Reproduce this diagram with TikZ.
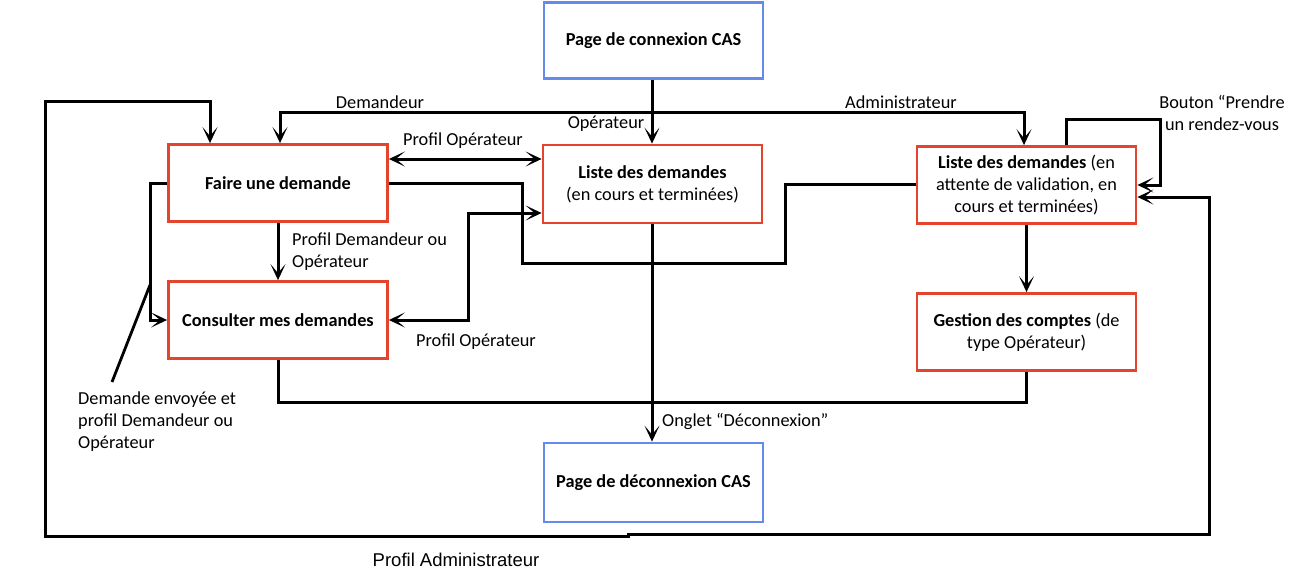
\documentclass[tikz,border=0pt]{standalone}
\usepackage{fontspec}
\setmainfont{Carlito}
\newfontfamily\arialf{Liberation Sans}
\usetikzlibrary{arrows.meta}
\definecolor{boxred}{RGB}{228,68,46}
\definecolor{boxblue}{RGB}{100,138,235}
\tikzset{
  box/.style={draw=boxred, line width=2.8pt, minimum width=219pt, minimum height=77pt, align=center, inner sep=2pt, font=\fontsize{18.3}{22}\selectfont},
  bluebox/.style={box, draw=boxblue},
  conn/.style={line width=3pt, line join=miter},
  arr/.style={conn, -{Stealth[length=16pt,width=15pt,inset=9pt]}},
  barr/.style={conn, {Stealth[length=16pt,width=15pt,inset=9pt]}-{Stealth[length=16pt,width=15pt,inset=9pt]}},
  lbl/.style={font=\fontsize{18.3}{22}\selectfont, inner sep=0pt},
}
\begin{document}
\begin{tikzpicture}[x=1pt,y=-1pt]
\useasboundingbox[fill=white] (0,0) rectangle (1289,570);

% boxes
\node[bluebox, minimum height=76pt] (cas) at (653.5,40.5) {\textbf{Page de connexion CAS}};
\node[box] (faire) at (278,183) {\textbf{Faire une demande}};
\node[box, minimum height=78pt] (liste1) at (652.5,184) {\textbf{Liste des demandes}\\(en cours et terminées)};
\node[box] (liste2) at (1026.5,185) {\textbf{Liste des demandes} (en\\attente de validation, en\\cours et terminées)};
\node[box] (consult) at (278,320) {\textbf{Consulter mes demandes}};
\node[box] (gestion) at (1026.5,332) {\textbf{Gestion des comptes} (de\\type Opérateur)};
\node[bluebox, minimum height=79pt] (decas) at (653.5,482.5) {\textbf{Page de déconnexion CAS}};

% coordinates
\coordinate (mx) at (652,0);
\coordinate (dA) at (280,112);
\coordinate (dB) at (1024,112);
\coordinate (o1) at (210,101);
\coordinate (o2) at (45,101);
\coordinate (o3) at (45,536);
\coordinate (o4) at (628,536);
\coordinate (o5) at (628,534);
\coordinate (o6) at (1209,534);
\coordinate (o7) at (1209,197);
\coordinate (s1) at (1066,119);
\coordinate (s2) at (1160,185);
\coordinate (c1) at (522,263);
\coordinate (c2) at (785,184);
\coordinate (k1) at (468,213);
\coordinate (l1) at (150,183);
\coordinate (d1) at (150,285);
\coordinate (d2) at (112,382);
\coordinate (g1) at (650,402);

% connectors
\draw[arr] (mx |- cas.south) -- (mx |- liste1.north);
\draw[barr] (dA |- faire.north) -- (dA) -- (dB) -- (dB |- liste2.north);
\draw[barr] (o1 |- faire.north) -- (o1) -- (o2) -- (o3) -- (o4) -- (o5) -- (o6) -- (o7) -- (o7 -| liste2.east);
\draw[arr] (s1 |- liste2.north) -- (s1) -| (s2) -- (s2 -| liste2.east);
\draw[barr] ([yshift=24pt]faire.east) -- ([yshift=25pt]liste1.west);
\draw[conn] (faire.east) -| (c1) -| (c2) -- (c2 -| liste2.west);
\draw[barr] (consult.east) -| (k1) -- (k1 -| liste1.west);
\draw[arr] (faire.south) -- (consult.north);
\draw[arr] (faire.west) -- (l1) |- (consult.west);
\draw[line width=2.8pt] (d1) -- (d2);
\draw[conn] (consult.south) |- (g1) -| (gestion.south);
\draw[arr] (mx |- liste1.south) -- (mx |- decas.north);
\draw[arr] (liste2.south) -- (gestion.north);

% labels
\node[lbl] (lDem) at (380,102) {Demandeur};
\node[lbl] (lAdm) at (901,102) {Administrateur};
\node[lbl] (lOp) at (606,124) {Opérateur};
\node[lbl] (lPO1) at (463,141) {Profil Opérateur};
\node[lbl] (lPO2) at (476,342) {Profil Opérateur};
\node[lbl, align=left, anchor=west] (lPDO) at (292,252) {Profil Demandeur ou\\Opérateur};
\node[lbl, align=left, anchor=west] (lEnv) at (78,422) {Demande envoyée et\\profil Demandeur ou\\Opérateur};
\node[lbl, align=center] (lBtn) at (1222,113) {Bouton “Prendre\\un rendez-vous};
\node[lbl, anchor=west] (lDec) at (662,421) {Onglet “Déconnexion”};
\node[inner sep=0pt, font=\arialf\fontsize{18.5}{20}\selectfont] (lPA) at (456,560) {Profil Administrateur};
\end{tikzpicture}
\end{document}
